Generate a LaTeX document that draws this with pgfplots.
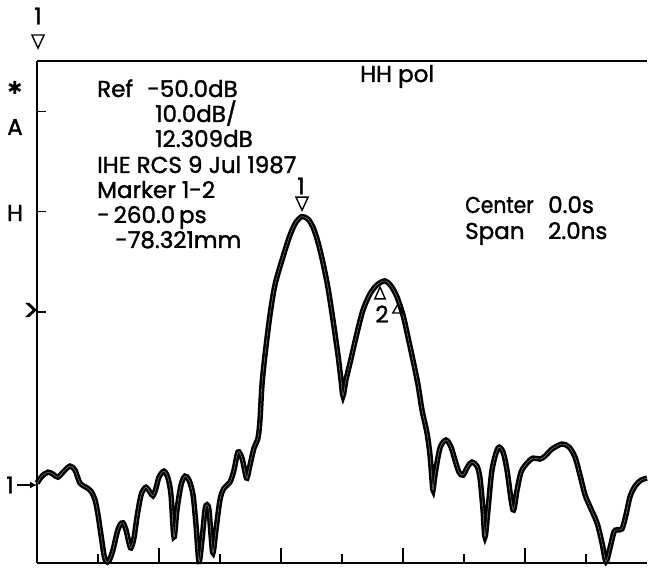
\documentclass[border=0pt]{standalone}
\usepackage{fontspec}
\setmainfont{Poppins}[FakeBold=1.5]
\newfontfamily\pl{Poppins}[FakeBold=1.5]
\newfontfamily\sym{DejaVu Sans}
\usepackage{pgfplots}
\pgfplotsset{compat=1.18}
\usetikzlibrary{arrows.meta}
\begin{document}
\begin{tikzpicture}[x=1pt,y=1pt]
\useasboundingbox (-37,-7) rectangle (611,563);
\begin{axis}[
  at={(0,0)}, anchor=south west,
  scale only axis, width=610pt, height=502pt,
  xmin=-1000, xmax=1000, ymin=0, ymax=100,
  axis y line*=left,
  axis line style={line width=1.4pt},
  xtick={-800,-400,0,400,800},
  xticklabels={},
  extra x ticks={-600,-200,200,600},
  extra x tick labels={},
  extra x tick style={major tick length=15pt},
  ytick={50,70,90}, yticklabels={},
  xtick pos=left, ytick pos=left,
  tick align=inside,
  major tick length=9pt,
  tick style={line width=1.3pt, black},
  clip=false,
]
\addplot[smooth, tension=0.5, line width=2.5pt, double=gray!85, double distance=0.4pt] coordinates {
(-1000,15.9) (-983.6,17.3) (-963.9,18.1) (-947.5,17.7) (-931.1,17.1) (-911.5,18.3)
(-891.8,19.3) (-875.4,18.5) (-859.0,15.9) (-839.3,15.1) (-823.0,14.3) (-809.8,12.6)
(-800.0,9.6) (-790.2,5.6) (-780.3,1.6) (-773.8,0.3) (-763.9,0.4) (-750.8,2.6)
(-737.7,6.0) (-727.9,7.6) (-718.0,8.0) (-708.2,6.6) (-698.4,4.0) (-691.8,3.0)
(-682.0,5.0) (-672.1,9.2) (-662.3,12.6) (-655.7,14.1) (-642.6,15.1) (-629.5,14.1)
(-619.7,13.4) (-609.8,14.9) (-600.0,17.1) (-583.6,18.3) (-570.5,16.9) (-560.7,13.6)
(-550.8,5.2) (-541.0,10.6) (-527.9,15.5) (-514.8,17.3) (-501.6,16.5) (-488.5,13.6)
(-478.7,7.6) (-468.9,0.3) (-459.0,4.6) (-449.2,10.6) (-442.6,11.6) (-436.1,10.6)
(-429.5,5.6) (-423.0,2.0) (-413.1,6.6) (-400.0,12.6) (-386.9,14.9) (-367.2,16.1)
(-354.1,18.5) (-341.0,22.1) (-327.9,20.9) (-318.0,18.1) (-311.5,16.9) (-301.6,19.5)
(-288.5,22.9) (-275.4,24.9) (-268.9,28.5) (-262.3,35.5) (-252.5,41.4) (-236.1,49.4)
(-219.7,55.4) (-193.4,61.0) (-170.5,65.3) (-150.8,67.9) (-131.1,69.0) (-111.5,68.5)
(-95.1,66.9) (-78.7,63.9) (-62.3,59.8) (-45.9,54.8) (-29.5,48.4) (-13.1,41.4)
(-3.3,36.5) (3.3,33.3) (13.1,36.5) (26.2,39.8) (49.2,45.8) (68.9,50.4)
(91.8,53.6) (114.8,55.4) (141.0,56.2) (160.7,55.2) (180.3,53.0) (200.0,49.4)
(216.4,45.0) (232.8,40.4) (249.2,35.5) (262.3,30.5) (278.7,25.9) (288.5,21.5)
(295.1,16.5) (298.4,14.5) (304.9,17.5) (321.3,22.9) (341.0,24.5) (357.4,23.1)
(370.5,20.5) (383.6,18.1) (396.7,17.5) (413.1,19.3) (426.2,20.1) (442.6,19.3)
(452.5,16.9) (462.3,10.6) (468.9,5.2) (478.7,10.6) (491.8,18.5) (511.5,22.9)
(527.9,22.1) (541.0,18.5) (560.7,10.6) (573.8,14.5) (586.9,18.1) (606.6,19.9)
(626.2,20.9) (649.2,20.7) (665.6,21.3) (688.5,22.7) (721.3,23.7) (744.3,23.1)
(764.0,21.1) (780.3,17.5) (796.7,13.6) (813.1,11.2) (836.1,8.0) (852.5,4.0)
(865.6,0.3) (878.7,3.0) (891.8,6.2) (901.6,6.6) (918.0,6.8) (931.1,9.6)
(944.3,13.2) (960.7,15.3) (980.3,16.5) (1000,16.9)
};
% marker 1 (on trace and above the axis)
\addplot[only marks, mark=triangle, mark size=7pt, mark options={rotate=180, yscale=1.25, line width=1.4pt, fill=white, draw=black}] coordinates {(-131,72.0) (-996.7,104.3)};
% marker 2
\addplot[only marks, mark=triangle, mark size=6pt, mark options={yscale=1.3, line width=1.4pt, fill=white, draw=black}] coordinates {(124.6,53.4)};
\addplot[only marks, mark=triangle, mark size=6pt, mark options={line width=1.4pt, fill=white, draw=black}] coordinates {(183.6,50.4)};
\end{axis}
\begin{scope}[every node/.style={inner sep=0pt, font=\pl\fontsize{23}{26}\selectfont}]
% outside labels
\node at (1,547) {1};
\node at (-22,475) {\sym\bfseries\fontsize{18}{18}\selectfont ✱};
\node at (-22,436) {A};
\node at (-22,350) {H};
\node at (-6,251) {\fontsize{30}{30}\selectfont >};
\node at (-27,78) {1};
\draw[line width=1.4pt, -{Latex[length=7pt,width=7pt]}] (-20,78) -- (0,78);
% text block
\node[anchor=base west] at (60,466) {Ref};
\node[anchor=base west] at (110,466) {-50.0dB};
\node[anchor=base west] at (118,441) {10.0dB/};
\node[anchor=base west] at (118,416) {12.309dB};
\node[anchor=base west] at (60,390) {IHE RCS 9 Jul 1987};
\node[anchor=base west] at (60,365) {Marker 1-2};
\node[anchor=base west] at (60,340) {-\,260.0\,ps};
\node[anchor=base west] at (78,315) {-78.321mm};
\node[anchor=base west] at (323,481) {HH pol};
\node[anchor=base west, xscale=0.88] at (428,350) {Center};
\node[anchor=base west] at (511,350) {0.0s};
\node[anchor=base west] at (428,324) {Span};
\node[anchor=base west] at (511,324) {2.0ns};
\node at (264,377) {1};
\node at (345,249) {2};
\end{scope}
\end{tikzpicture}
\end{document}
